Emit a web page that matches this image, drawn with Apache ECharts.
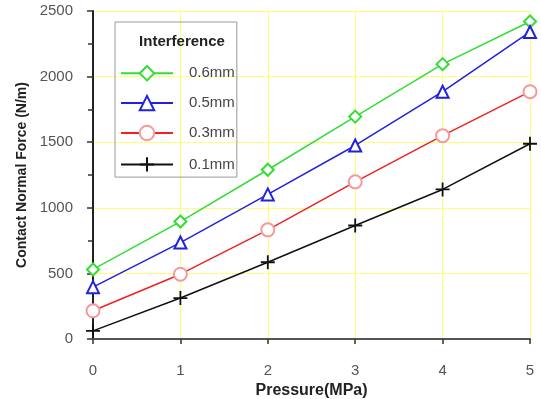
<!DOCTYPE html>
<html><head><meta charset="utf-8">
<script src="https://cdn.jsdelivr.net/npm/echarts@6/dist/echarts.min.js"></script>
<style>html,body{margin:0;padding:0;background:#fff}#c{width:541px;height:399px}</style>
</head><body><div id="c"></div>
<script>
const pressure = [0, 1, 2, 3, 4, 5];
const s06 = [530, 895, 1290, 1695, 2095, 2420];
const s05 = [395, 735, 1102, 1475, 1885, 2340];
const s03 = [215, 494, 832, 1198, 1550, 1885];
const s01 = [62, 312, 585, 865, 1140, 1488];
const names = ['0.6mm', '0.5mm', '0.3mm', '0.1mm'];
const yTicks = [0, 500, 1000, 1500, 2000, 2500];

const font = 'Liberation Sans, Arial, sans-serif';
function pairs(v){ return pressure.map((x,i)=>[x, v[i]]); }
const plus = 'path://M5,0 L5,10 M0,5 L10,5';

const chart = echarts.init(document.getElementById('c'));
chart.setOption({
  animation: false,
  backgroundColor: '#fff',
  title: {
    text: 'Interference', left: 177, top: 29, textAlign: 'center',
    textStyle: {fontFamily: font, fontSize: 15, fontWeight: 'bold', color: '#222'}
  },
  grid: {left: 93, right: 11, top: 11, bottom: 60, outerBoundsMode: 'none', containLabel: false},
  legend: {
    orient: 'vertical', left: 115, top: 22,
    padding: [43, 2, 3, 5],
    borderColor: '#999', borderWidth: 1,
    itemWidth: 52, itemHeight: 18, itemGap: 13.5,
    textStyle: {fontFamily: font, fontSize: 15, color: '#444', padding: [0,0,0,11]},
    data: names
  },
  xAxis: {
    type: 'value', min: 0, max: 5, interval: 1,
    name: 'Pressure(MPa)', nameLocation: 'middle', nameGap: 44,
    nameTextStyle: {fontFamily: font, fontSize: 16, fontWeight: 'bold', color: '#222'},
    axisLine: {lineStyle: {color: '#555', width: 2}},
    axisTick: {show: true, inside: false, length: 5, lineStyle: {color: '#333', width: 1.5}},
    axisLabel: {fontFamily: font, fontSize: 15, color: '#555', margin: 24},
    splitLine: {show: true, lineStyle: {color: '#ffff77', width: 1}}
  },
  yAxis: {
    type: 'value', min: 0, max: 2500, interval: 500,
    name: 'Contact Normal Force (N/m)', nameLocation: 'middle', nameGap: 61,
    nameTextStyle: {fontFamily: font, fontSize: 14, fontWeight: 'bold', color: '#222'},
    axisLine: {show: true, lineStyle: {color: '#222', width: 2}},
    axisTick: {show: true, inside: false, length: 6, lineStyle: {color: '#333', width: 1.5}},
    minorTick: {show: true, splitNumber: 2, length: 5, lineStyle: {color: '#333', width: 1.5}},
    axisLabel: {fontFamily: font, fontSize: 15, color: '#555', margin: 20,
      formatter: v => yTicks.includes(v) ? String(v) : ''},
    splitLine: {show: true, lineStyle: {color: '#ffff77', width: 1}}
  },
  series: [
    {name: names[0], type: 'line', data: pairs(s06), symbol: 'emptyDiamond', symbolSize: 12,
      lineStyle: {color: '#33dd33', width: 1.5}, itemStyle: {color: '#33dd33', borderWidth: 1.2}},
    {name: names[1], type: 'line', data: pairs(s05), symbol: 'emptyTriangle', symbolSize: 12,
      lineStyle: {color: '#2222dd', width: 1.5}, itemStyle: {color: '#2222dd', borderWidth: 1.2}},
    {name: names[2], type: 'line', data: pairs(s03), symbol: 'emptyCircle', symbolSize: 13,
      lineStyle: {color: '#ee2222', width: 1.5}, itemStyle: {color: '#f59a9a', borderColor: '#f59a9a', borderWidth: 1.2}},
    {name: names[3], type: 'line', data: pairs(s01), symbol: plus, symbolSize: 14,
      lineStyle: {color: '#111', width: 1.5}, itemStyle: {color: 'none', borderColor: '#111', borderWidth: 1.8}}
  ]
});
</script></body></html>
